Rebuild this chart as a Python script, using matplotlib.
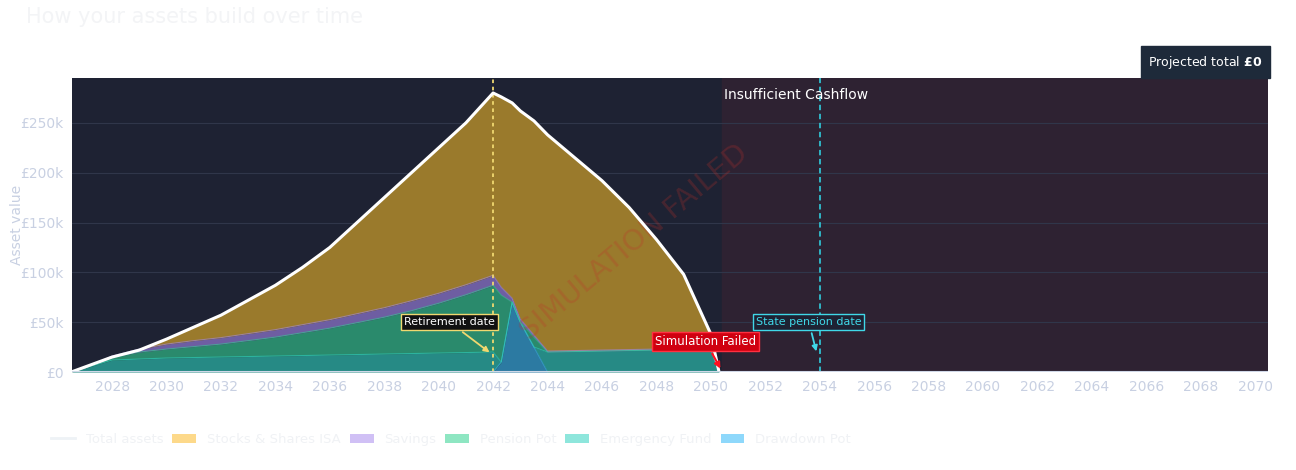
import matplotlib

matplotlib.use("Agg")

import matplotlib.pyplot as plt
import numpy as np
from matplotlib.patches import Patch
from matplotlib.lines import Line2D

# time axis (years) and components in £k
years = [2026.5, 2027, 2028, 2029, 2030, 2031, 2032, 2033, 2034, 2035, 2036, 2037, 2038,
         2039, 2040, 2041, 2042, 2042.3, 2042.7, 2043, 2043.5, 2044, 2045, 2046, 2047,
         2048, 2049, 2050, 2050.3]
drawdown = [0] * 17 + [10, 70, 50, 25, 0, 0, 0, 0, 0, 0, 0, 0]
emergency = [0, 4, 12, 13, 14, 14.5, 15, 15.5, 16, 16.5, 17, 17.5, 18, 18.5, 19, 19.5, 20,
             0, 0, 0, 0, 20, 20.5, 21, 21.5, 22, 22, 22.5, 0]
pension = [0, 0, 3, 7, 9, 11, 13, 16, 19, 23, 27, 32, 37, 43, 50, 58, 67,
           67, 0, 0, 10, 0, 0, 0, 0, 0, 0, 0, 0]
savings = [0, 0, 1, 3, 5, 6, 6.5, 7, 7.5, 8, 8.5, 9, 9.5, 10, 10, 10, 10,
           8, 4, 3, 2, 1, 1, 1, 1, 1, 1, 1, 0]
total = [0, 5, 15, 22, 33, 45, 57, 72, 87, 105, 125, 150, 175, 200, 225, 250, 280,
         276, 270, 262, 252, 238, 215, 192, 165, 133, 98, 38, 0]

retirement_year = 2042
state_pension_year = 2054
failed_year = 2050.4

BG = "#1e2233"
TICK = "#c8d0e2"

t = np.array(years)
layers = [
    (np.array(drawdown) * 1000, "#2c7aa2", "#3ab0e0"),
    (np.array(emergency) * 1000, "#268a85", "#2fd0c0"),
    (np.array(pension) * 1000, "#2a8a6c", "#35c890"),
    (np.array(savings) * 1000, "#6e5ea2", "#a48ae0"),
]

fig = plt.figure(figsize=(12.96, 4.70), dpi=100)
ax = fig.add_axes([0.0556, 0.2085, 0.9228, 0.6255])
ax.set_facecolor(BG)
ax.set_xlim(2026.53, 2070.47)
ax.set_ylim(0, 295000)

ax.axvspan(failed_year, 2070.47, color="#2e2232", zorder=0)
for yv in range(50000, 300000, 50000):
    ax.axhline(yv, color="#30364a", lw=0.8, zorder=0.5)

base = np.zeros_like(t)
for vals, col, ec in layers:
    top = base + vals
    ax.fill_between(t, base, top, color=col, lw=0, zorder=1)
    ax.plot(t, top, color=ec, lw=0.8, alpha=0.6, zorder=1.5)
    base = top
tot = np.array(total) * 1000
ax.fill_between(t, base, tot, color="#9a7a2c", lw=0, zorder=1)
ax.plot(t, tot, color="white", lw=2.2, zorder=3)

ax.axvline(retirement_year, color="#f0d870", ls=(0, (2, 2)), lw=1.3, zorder=2)
ax.axvline(state_pension_year, color="#30c0d0", ls=(0, (3, 2)), lw=1.3, zorder=2)

ax.text(2047.2, 130000, "SIMULATION FAILED", color="#c0302a", alpha=0.25, fontsize=21,
        rotation=40, ha="center", va="center", zorder=2.5)
ax.text(2050.5, 278000, "Insufficient Cashflow", color="white", fontsize=10, va="center", zorder=4)

ax.annotate("Retirement date", xy=(2041.95, 18000), xytext=(2040.4, 50000), fontsize=8,
            color="white", ha="center", va="center", zorder=5,
            bbox=dict(boxstyle="square,pad=0.25", fc="#111111", ec="#f0d870", lw=1),
            arrowprops=dict(arrowstyle="-|>", color="#f0d870", lw=1.3))
ax.annotate("State pension date", xy=(2053.9, 18000), xytext=(2053.6, 50000), fontsize=8,
            color="#40d8e8", ha="center", va="center", zorder=5,
            bbox=dict(boxstyle="square,pad=0.25", fc=BG, ec="#40d8e8", lw=1),
            arrowprops=dict(arrowstyle="-|>", color="#40d8e8", lw=1.3))
ax.annotate("Simulation Failed", xy=(2050.4, 1000), xytext=(2049.8, 31000), fontsize=8.5,
            color="white", ha="center", va="center", zorder=5,
            bbox=dict(boxstyle="square,pad=0.25", fc="#d00010", ec="#ff3040", lw=1),
            arrowprops=dict(arrowstyle="-|>", color="#ff1020", lw=1.5))

ax.set_xticks(range(2028, 2071, 2))
ax.set_yticks(range(0, 300000, 50000))
ax.set_yticklabels(["£0"] + [f"£{v}k" for v in range(50, 300, 50)])
ax.tick_params(colors=TICK, labelsize=10, length=0, pad=6)
for s in ax.spines.values():
    s.set_visible(False)
ax.axhline(0, color="#d0d8e8", lw=1.5, zorder=4)
ax.set_ylabel("Asset value", color=TICK, fontsize=10, labelpad=0)
ax.yaxis.set_label_coords(-0.04, 0.5)

fig.text(0.02, 0.963, "How your assets build over time", color="#f3f4f6", fontsize=15,
         va="center")
fig.text(0.974, 0.868, r"Projected total $\bf{£0}$", color="white", fontsize=9,
         ha="right", va="center",
         bbox=dict(boxstyle="square,pad=0.6", fc="#1e2a3a", ec="#1e2a3a"))

handles = [
    Line2D([0], [0], color="#eef2f6", lw=2),
    Patch(fc="#fdd98a"), Patch(fc="#d0c0f5"), Patch(fc="#8ee6c2"),
    Patch(fc="#8ee6dc"), Patch(fc="#8ed8fb"),
]
labels = ["Total assets", "Stocks & Shares ISA", "Savings", "Pension Pot",
          "Emergency Fund", "Drawdown Pot"]
leg = fig.legend(handles, labels, loc="center", bbox_to_anchor=(0.348, 0.065), ncol=6,
                 frameon=False, fontsize=9.5, handlelength=1.8, columnspacing=0.7)
for txt in leg.get_texts():
    txt.set_color("#f0f2f5")

fig.savefig("out.png", dpi=100)
